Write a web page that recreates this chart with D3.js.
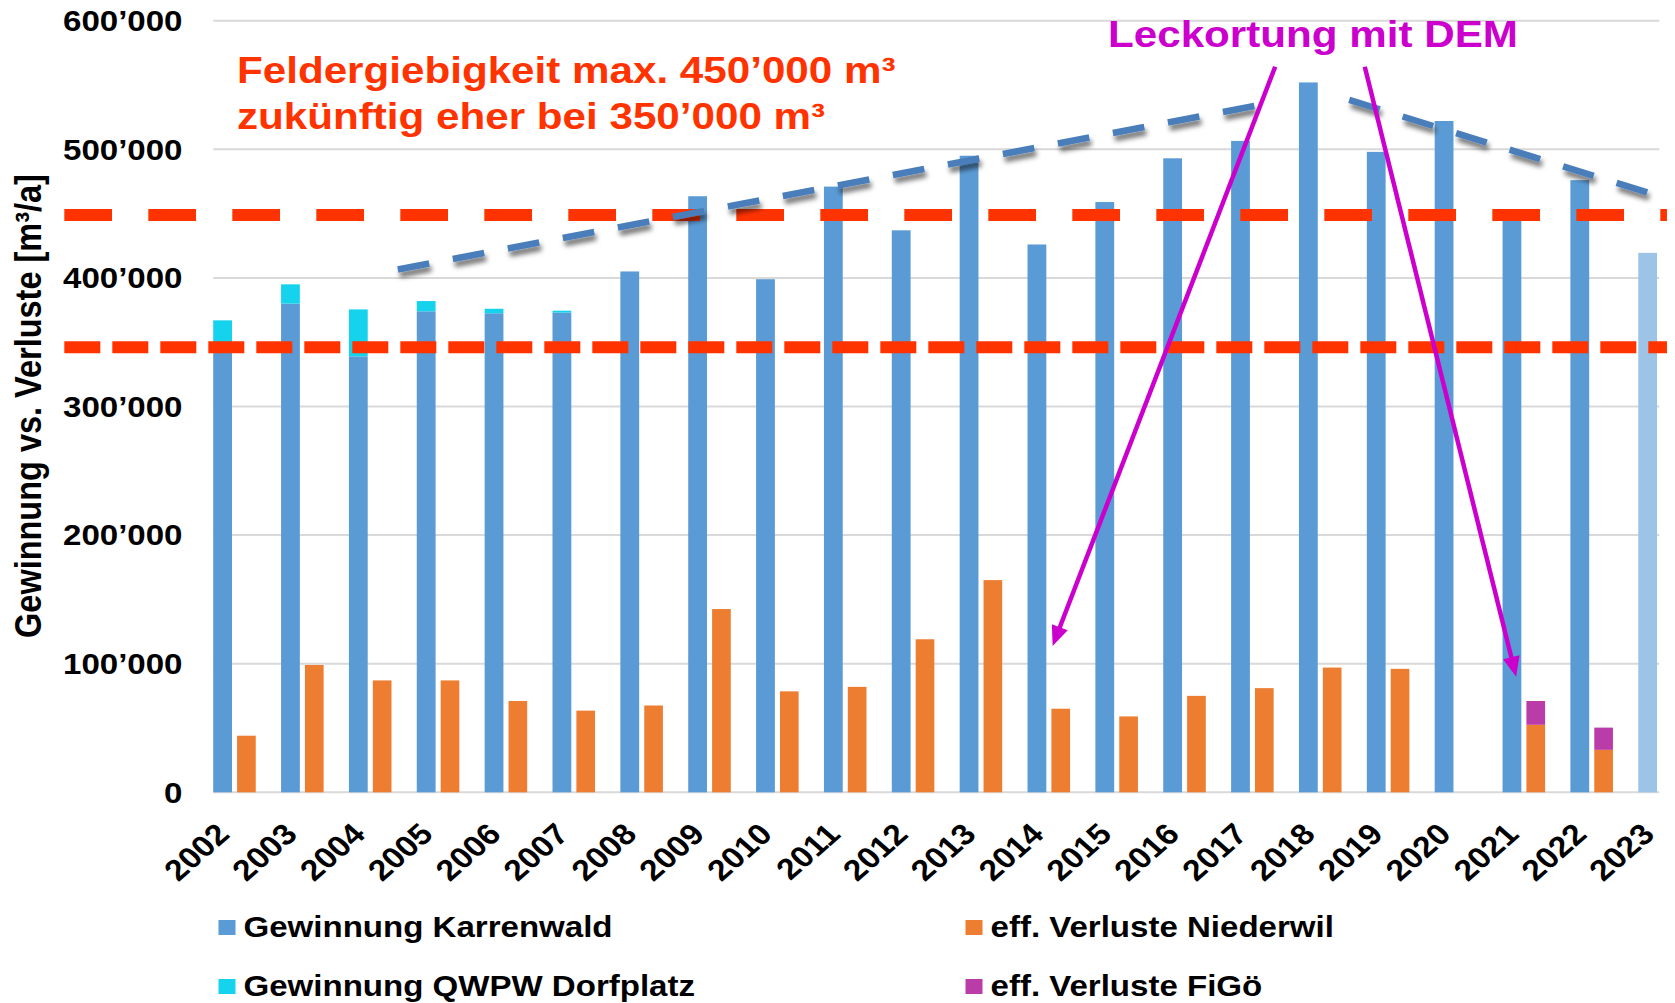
<!DOCTYPE html>
<html>
<head>
<meta charset="utf-8">
<script src="https://cdn.jsdelivr.net/npm/d3@7"></script>
<style>
  html, body { margin: 0; padding: 0; background: #fff; }
  svg { display: block; font-family: "Liberation Sans", Arial, Helvetica, sans-serif; font-weight: bold; }
</style>
</head>
<body>
<div id="chart"></div>
<script>
// ---- data ----
const years = ["2002","2003","2004","2005","2006","2007","2008","2009","2010","2011","2012",
               "2013","2014","2015","2016","2017","2018","2019","2020","2021","2022","2023"];
const karrenwald = [345000, 380000, 339000, 374000, 372500, 373000, 405000, 463500, 399000, 471000, 437000,
                    495000, 426000, 459000, 493000, 506500, 552000, 498000, 522000, 446000, 476000, 419500];
const dorfplatz  = [22000, 15000, 36500, 8000, 3500, 1500, 0, 0, 0, 0, 0,
                    0, 0, 0, 0, 0, 0, 0, 0, 0, 0, 0];
const niederwil  = [44000, 99000, 87000, 87000, 71000, 63500, 67500, 142500, 78500, 82000, 119000,
                    165000, 65000, 59000, 75000, 81000, 97000, 96000, 0, 52500, 33000, 0];
const figoe      = [0, 0, 0, 0, 0, 0, 0, 0, 0, 0, 0,
                    0, 0, 0, 0, 0, 0, 0, 0, 18500, 17300, 0];
const estimatedYears = ["2023"];
const seriesNames = ["Gewinnung Karrenwald", "Gewinnung QWPW Dorfplatz", "eff. Verluste Niederwil", "eff. Verluste FiGö"];
const yTicks = [0, 100000, 200000, 300000, 400000, 500000, 600000];

// annotations (year position, m3)
const limits = [449000, 346000];
const titleLines = ["Feldergiebigkeit max. 450’000 m³", "zukünftig eher bei 350’000 m³"];
const leakText = "Leckortung mit DEM";
const trendRise = [[2004.72, 406500], [2017.35, 533700]];
const trendFall = [[2018.74, 538400], [2023.16, 466000]];
const leakArrows = [
  [[2017.65, 564200], [2014.37, 113800]],
  [[2018.97, 564200], [2021.20, 89900]]
];

// ---- layout ----
const width = 1675, height = 1003;
const SX = 1.14;   // the source picture is stretched horizontally
const colors = {
  karrenwald: "#5B9BD5", estimated: "#9DC3E6", dorfplatz: "#15D3EC",
  niederwil: "#ED7D31", figoe: "#BA3CA8", limit: "#FF3300",
  leak: "#CC00CC", trend: "#4A7EBB", grid: "#D9D9D9"
};

const svg = d3.select("#chart").append("svg")
  .attr("width", width).attr("height", height);

const defs = svg.append("defs");
defs.append("filter")
  .attr("id", "shadow").attr("x", "-10%").attr("y", "-60%").attr("width", "130%").attr("height", "260%")
  .append("feDropShadow")
  .attr("dx", 2).attr("dy", 5).attr("stdDeviation", 2.5)
  .attr("flood-color", "#000").attr("flood-opacity", 0.55);

const step = 67.86;
const x = d3.scaleBand()
  .domain(years)
  .range([213.2, 213.2 + step * years.length])
  .padding(0);
const xYear = d3.scaleLinear().domain([2002, 2023]).range([x("2002"), x("2023")]);
const y = d3.scaleLinear().domain([0, 600000]).range([792.3, 20.7]);

const blueW = step * 0.277;
const orangeOff = step * 0.352;
const orangeW = step * 0.275;
const plotL = x(years[0]);
const plotR = x(years[years.length - 1]) + step * 0.31;

// gridlines
svg.append("g")
  .selectAll("line")
  .data(yTicks)
  .join("line")
  .attr("x1", plotL).attr("x2", plotR)
  .attr("y1", d => y(d)).attr("y2", d => y(d))
  .attr("stroke", colors.grid)
  .attr("stroke-width", 2);

// y tick labels
const fmt = v => d3.format(",")(v).replace(/,/g, "’");
svg.append("g")
  .selectAll("text")
  .data(yTicks)
  .join("text")
  .attr("transform", d => `translate(182.5,${y(d) + 10.3}) scale(${SX},1)`)
  .attr("text-anchor", "end")
  .attr("font-size", 29)
  .attr("fill", "#000")
  .text(fmt);

// y axis title
svg.append("text")
  .attr("transform", `translate(41,406) scale(${SX},1) rotate(-90)`)
  .attr("text-anchor", "middle")
  .attr("font-size", 32.5)
  .text("Gewinnung vs. Verluste [m³/a]");

// bars
const rows = years.map((yr, i) => ({
  yr, kw: karrenwald[i], dp: dorfplatz[i], nw: niederwil[i], fg: figoe[i]
}));
const bars = svg.append("g");

bars.selectAll("rect.kw")
  .data(rows)
  .join("rect")
  .attr("class", "kw")
  .attr("x", d => x(d.yr))
  .attr("width", blueW)
  .attr("y", d => y(d.kw))
  .attr("height", d => y(0) - y(d.kw))
  .attr("fill", d => estimatedYears.includes(d.yr) ? colors.estimated : colors.karrenwald);

bars.selectAll("rect.dp")
  .data(rows.filter(d => d.dp > 0))
  .join("rect")
  .attr("class", "dp")
  .attr("x", d => x(d.yr))
  .attr("width", blueW)
  .attr("y", d => y(d.kw + d.dp))
  .attr("height", d => y(d.kw) - y(d.kw + d.dp))
  .attr("fill", colors.dorfplatz);

bars.selectAll("rect.nw")
  .data(rows.filter(d => d.nw > 0))
  .join("rect")
  .attr("class", "nw")
  .attr("x", d => x(d.yr) + orangeOff)
  .attr("width", orangeW)
  .attr("y", d => y(d.nw))
  .attr("height", d => y(0) - y(d.nw))
  .attr("fill", colors.niederwil);

bars.selectAll("rect.fg")
  .data(rows.filter(d => d.fg > 0))
  .join("rect")
  .attr("class", "fg")
  .attr("x", d => x(d.yr) + orangeOff)
  .attr("width", orangeW)
  .attr("y", d => y(d.nw + d.fg))
  .attr("height", d => y(d.nw) - y(d.nw + d.fg))
  .attr("fill", colors.figoe);

// x labels, rotated
svg.append("g")
  .selectAll("text")
  .data(years)
  .join("text")
  .attr("transform", d => `translate(${x(d) + 18},836) scale(${SX},1) rotate(-45)`)
  .attr("text-anchor", "end")
  .attr("font-size", 29.5)
  .text(d => d);

// limit lines (dashed red)
const limitStyles = [
  { dash: "47.7 36.3" },
  { dash: "36 12" }
];
svg.append("g")
  .selectAll("line")
  .data(limits)
  .join("line")
  .attr("x1", xYear(2002 - 2.194)).attr("x2", xYear(2002 + 21.423))
  .attr("y1", d => y(d)).attr("y2", d => y(d))
  .attr("stroke", colors.limit)
  .attr("stroke-width", 12)
  .attr("stroke-dasharray", (d, i) => limitStyles[i].dash);

// trend lines (blue dashed with shadow)
const line = d3.line().x(d => xYear(d[0])).y(d => y(d[1]));
svg.append("g")
  .attr("filter", "url(#shadow)")
  .selectAll("path")
  .data([trendRise, trendFall])
  .join("path")
  .attr("d", line)
  .attr("fill", "none")
  .attr("stroke", colors.trend)
  .attr("stroke-width", 6.5)
  .attr("stroke-dasharray", "32 24");

// title annotation
const title = svg.append("g").attr("fill", colors.limit).attr("font-size", 37);
titleLines.forEach((t, i) => {
  title.append("text")
    .attr("transform", `translate(237,${82.5 + i * 46.5}) scale(${SX},1)`)
    .text(t);
});

// leak annotation + arrows
svg.append("text")
  .attr("transform", `translate(1108,47) scale(${SX},1)`)
  .attr("font-size", 37)
  .attr("fill", colors.leak)
  .text(leakText);

const arrows = svg.append("g");
leakArrows.forEach(([a, b]) => {
  const x0 = xYear(a[0]), y0 = y(a[1]), x1 = xYear(b[0]), y1 = y(b[1]);
  const len = Math.hypot(x1 - x0, y1 - y0);
  const ux = (x1 - x0) / len, uy = (y1 - y0) / len;
  const px = -uy, py = ux;
  const headL = 20, headW = 8.5;
  arrows.append("line")
    .attr("x1", x0).attr("y1", y0)
    .attr("x2", x1 - ux * 12).attr("y2", y1 - uy * 12)
    .attr("stroke", colors.leak)
    .attr("stroke-width", 4.5);
  arrows.append("path")
    .attr("d", `M${x1},${y1} L${x1 - ux * headL + px * headW},${y1 - uy * headL + py * headW} L${x1 - ux * headL - px * headW},${y1 - uy * headL - py * headW} Z`)
    .attr("fill", colors.leak);
});

// legend
const legendItems = [
  { name: seriesNames[0], color: colors.karrenwald, lx: 218.5, ly: 920 },
  { name: seriesNames[2], color: colors.niederwil, lx: 965.5, ly: 920 },
  { name: seriesNames[1], color: colors.dorfplatz, lx: 218.5, ly: 979 },
  { name: seriesNames[3], color: colors.figoe, lx: 965.5, ly: 979 }
];
const legend = svg.append("g");
legend.selectAll("rect")
  .data(legendItems)
  .join("rect")
  .attr("x", d => d.lx).attr("y", d => d.ly)
  .attr("width", 17).attr("height", 15)
  .attr("fill", d => d.color);
legend.selectAll("text")
  .data(legendItems)
  .join("text")
  .attr("transform", d => `translate(${d.lx + 25},${d.ly + 16.5}) scale(${SX},1)`)
  .attr("font-size", 29)
  .text(d => d.name);
</script>
</body>
</html>
